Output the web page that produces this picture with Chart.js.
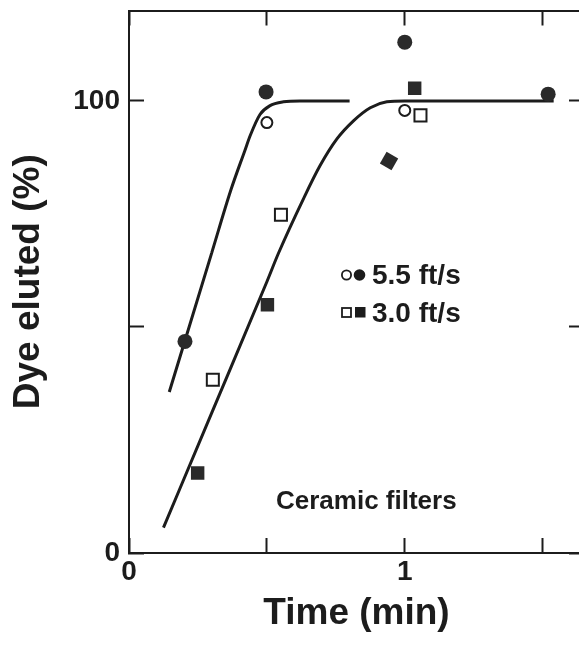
<!DOCTYPE html>
<html>
<head>
<meta charset="utf-8">
<script src="https://cdn.jsdelivr.net/npm/chart.js@4/dist/chart.umd.min.js"></script>
<style>
  html, body { margin: 0; padding: 0; background: #fff; overflow: hidden; }
  #wrap { width: 579px; height: 666px; overflow: hidden; }
</style>
</head>
<body>
<div id="wrap"><canvas id="graphe" width="600" height="666"></canvas></div>
<script>
// Dye eluted vs time, ceramic filters

// fitted curves
const courbeRapideX = [0.146, 0.2, 0.3, 0.37, 0.42, 0.44, 0.475, 0.51, 0.56, 0.62, 0.8];
const courbeRapideY = [35.6, 46.4, 66.4, 80.4, 89.0, 92.4, 97.0, 98.9, 99.8, 100, 100];
const courbeLenteX = [0.125, 0.3, 0.5, 0.542, 0.633, 0.693, 0.754, 0.814, 0.875, 0.935, 1.0, 1.54];
const courbeLenteY = [5.6, 31, 60, 66.3, 78.4, 85.7, 91.6, 95.6, 98.5, 99.8, 100, 100];

// 5.5 ft/s measurements
const rapideOuvertX = [0.5, 1.0];
const rapideOuvertY = [95.2, 97.9];
const rapidePleinX = [0.203, 0.497, 1.0, 1.52];
const rapidePleinY = [46.8, 102.0, 113.0, 101.5];

// 3.0 ft/s measurements
const lenteOuvertX = [0.304, 0.551, 1.057];
const lenteOuvertY = [38.3, 74.8, 96.8];
const lentePleinX = [0.249, 0.502, 0.943, 1.036];
const lentePleinY = [17.7, 54.9, 86.7, 102.8];

// axes
const xTicks = [0, 0.5, 1, 1.5];
const xTickLabels = ["0", "", "1", ""];
const yTicks = [0, 50, 100];
const yTickLabels = ["0", "", "100"];

const NOIR = "#1c1c1c";
const POLICE = "'Liberation Sans', Arial, Helvetica, sans-serif";

function points(xs, ys) {
  return xs.map((x, i) => ({ x: x, y: ys[i] }));
}

// no extra label padding around the plot
function sansMarge(s) {
  s.paddingTop = 0;
  s.paddingBottom = 0;
  s.paddingLeft = 0;
  s.paddingRight = 0;
}

const legendeEtTexte = {
  id: "legendeEtTexte",
  afterDraw(chart) {
    const ctx = chart.ctx;
    ctx.save();
    ctx.fillStyle = NOIR;
    ctx.strokeStyle = NOIR;
    ctx.font = "bold 28px " + POLICE;
    ctx.textBaseline = "middle";
    ctx.textAlign = "left";

    // row 1 : circles
    ctx.lineWidth = 1.8;
    ctx.beginPath();
    ctx.arc(346.5, 275, 4.6, 0, Math.PI * 2);
    ctx.stroke();
    ctx.beginPath();
    ctx.arc(359.5, 275, 5.8, 0, Math.PI * 2);
    ctx.fill();
    ctx.fillText("5.5 ft/s", 372, 276);

    // row 2 : squares
    ctx.strokeRect(342, 308, 9, 9);
    ctx.fillRect(355, 307, 10.5, 10.5);
    ctx.fillText("3.0 ft/s", 372, 314);

    ctx.font = "bold 26px " + POLICE;
    ctx.fillText("Ceramic filters", 276, 502);
    ctx.restore();
  },
};

const axeCommun = {
  type: "linear",
  border: { display: true, color: NOIR, width: 2 },
  grid: { drawOnChartArea: false, color: NOIR, tickColor: NOIR, tickLength: -15, tickWidth: 2 },
};

new Chart(document.getElementById("graphe"), {
  type: "scatter",
  data: {
    datasets: [
      {
        label: "5.5 ft/s ouvert",
        data: points(rapideOuvertX, rapideOuvertY),
        pointStyle: "circle",
        pointRadius: 5.5,
        pointBorderWidth: 2,
        pointBackgroundColor: "#fff",
        pointBorderColor: NOIR,
        order: 1,
      },
      {
        label: "5.5 ft/s plein",
        data: points(rapidePleinX, rapidePleinY),
        pointStyle: "circle",
        pointRadius: 7.5,
        pointBorderWidth: 0,
        pointBackgroundColor: "#2a2a2a",
        order: 1,
      },
      {
        label: "3.0 ft/s ouvert",
        data: points(lenteOuvertX, lenteOuvertY),
        pointStyle: "rect",
        pointRadius: 8.5,
        pointBorderWidth: 2,
        pointBackgroundColor: "#fff",
        pointBorderColor: NOIR,
        order: 1,
      },
      {
        label: "3.0 ft/s plein",
        data: points(lentePleinX, lentePleinY),
        pointStyle: "rect",
        pointRadius: 9.5,
        pointBorderWidth: 0,
        pointBackgroundColor: "#2a2a2a",
        pointRotation: (c) => (c.dataIndex === 2 ? 30 : 0),
        order: 1,
      },
      {
        label: "courbe 5.5",
        data: points(courbeRapideX, courbeRapideY),
        showLine: true,
        borderColor: NOIR,
        borderWidth: 3,
        pointRadius: 0,
        cubicInterpolationMode: "monotone",
        order: 2,
      },
      {
        label: "courbe 3.0",
        data: points(courbeLenteX, courbeLenteY),
        showLine: true,
        borderColor: NOIR,
        borderWidth: 3,
        pointRadius: 0,
        cubicInterpolationMode: "monotone",
        order: 2,
      },
    ],
  },
  options: {
    responsive: false,
    animation: false,
    layout: { padding: 0 },
    plugins: { legend: { display: false }, tooltip: { enabled: false } },
    scales: {
      x: {
        ...axeCommun,
        position: "bottom",
        min: 0,
        max: 1.65,
        afterBuildTicks: (s) => { s.ticks = xTicks.map((v) => ({ value: v })); },
        afterFit: (s) => { s.height = 113; sansMarge(s); },
        ticks: {
          color: NOIR,
          padding: 17,
          maxRotation: 0,
          font: { family: POLICE, size: 28, weight: "bold" },
          callback: (v, i) => xTickLabels[i],
        },
        title: {
          display: true,
          text: "Time (min)",
          color: NOIR,
          font: { family: POLICE, size: 37, weight: "bold" },
          padding: { top: 0, bottom: 30 },
        },
      },
      x2: {
        ...axeCommun,
        position: "top",
        min: 0,
        max: 1.65,
        afterBuildTicks: (s) => { s.ticks = xTicks.map((v) => ({ value: v })); },
        afterFit: (s) => { s.height = 8; sansMarge(s); },
        ticks: { display: false },
      },
      y: {
        ...axeCommun,
        position: "left",
        min: 0,
        max: 120,
        afterBuildTicks: (s) => { s.ticks = yTicks.map((v) => ({ value: v })); },
        afterFit: (s) => { s.width = 129; sansMarge(s); },
        ticks: {
          color: NOIR,
          padding: 24,
          font: { family: POLICE, size: 28, weight: "bold" },
          callback: (v, i) => yTickLabels[i],
        },
        title: {
          display: true,
          text: "Dye eluted (%)",
          color: NOIR,
          font: { family: POLICE, size: 37, weight: "bold" },
          padding: { top: 7, bottom: 0 },
        },
      },
      y2: {
        ...axeCommun,
        position: "right",
        min: 0,
        max: 120,
        afterBuildTicks: (s) => { s.ticks = yTicks.map((v) => ({ value: v })); },
        afterFit: (s) => { s.width = 16; sansMarge(s); },
        ticks: { display: false },
      },
    },
  },
  plugins: [legendeEtTexte],
});
</script>
</body>
</html>
